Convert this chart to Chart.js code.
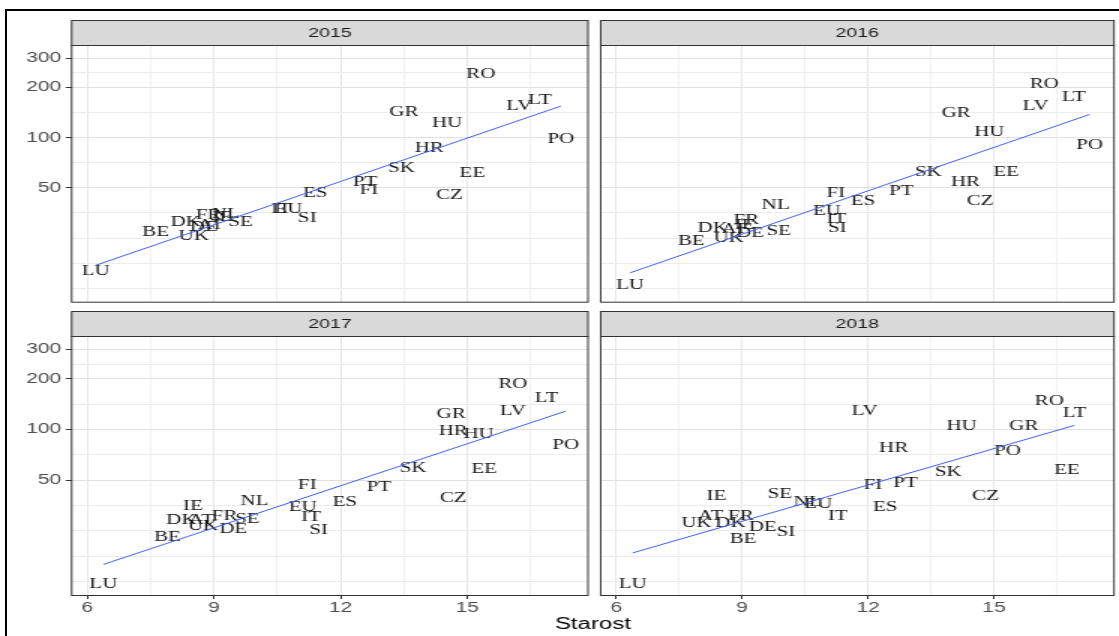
<!DOCTYPE html>
<html><head><meta charset="utf-8">
<script src="https://cdn.jsdelivr.net/npm/chart.js@4.4.1/dist/chart.umd.min.js"></script>
<style>
html,body{margin:0;padding:0;background:#fff;}
#wrap{position:relative;width:1119px;height:636px;overflow:hidden;background:#fff;}
#wrap canvas{position:absolute;left:0;top:0;}
#frame{position:absolute;left:5px;top:9px;width:1200px;height:700px;border-top:2px solid #000;border-left:2px solid #000;pointer-events:none;}
</style></head><body>
<div id="wrap">
<canvas id="c2015" width="746" height="636" style="width:1119px;height:636px"></canvas>
<canvas id="c2016" width="746" height="636" style="width:1119px;height:636px"></canvas>
<canvas id="c2017" width="746" height="636" style="width:1119px;height:636px"></canvas>
<canvas id="c2018" width="746" height="636" style="width:1119px;height:636px"></canvas>
<div id="frame"></div>
</div>
<script>
// ---- data ----
const countries = ['AT','BE','CZ','DE','DK','EE','ES','EU','FI','FR','GR','HR','HU','IE','IT','LT','LU','LV','NL','PO','PT','RO','SE','SI','SK','UK'];
const x2015 = [8.92,7.62,14.58,8.76,8.33,15.12,11.40,10.76,12.67,8.87,13.50,14.10,14.52,9.20,10.59,16.72,6.20,16.23,9.28,17.22,12.58,15.32,9.63,11.21,13.44,8.52];
const y2015 = [29.8,27.1,45.2,29.0,31.0,61.2,46.2,37.2,48.4,34.2,142.7,86,121.7,33.2,37.2,168,15.9,155,34.8,97.7,53.8,240,31.1,32.8,66,25.6];
const x2016 = [8.81,7.79,14.67,9.19,8.30,15.29,11.88,11.02,11.23,9.10,14.10,14.32,14.89,9.06,11.25,16.90,6.33,15.99,9.80,17.28,12.79,16.20,9.87,11.27,13.44,8.68];
const y2016 = [28.2,24.0,41.3,26.9,28.7,61.7,41.7,36.3,46.2,32.1,139.9,53.7,107.1,29.8,32.4,173.7,13.0,153.4,39.3,90.3,47.9,208.7,27.5,28.5,62.2,24.8];
const x2017 = [8.70,7.90,14.67,9.46,8.23,15.40,12.10,11.10,11.21,9.25,14.62,14.67,15.27,8.50,11.30,16.88,6.38,16.08,9.96,17.33,12.91,16.08,9.79,11.48,13.72,8.74];
const y2017 = [28.7,22.8,38.9,25.5,28.7,57.9,36.8,34.7,46.4,30.7,123,97.7,93.3,35.2,30.0,153.3,12.1,128.7,37.7,80.5,45.3,186,29.3,25.3,58.9,26.7];
const x2018 = [8.25,9.02,14.80,9.49,8.72,16.74,12.41,10.81,12.12,8.97,15.71,12.61,14.23,8.39,11.28,16.92,6.39,11.92,10.56,15.32,12.89,16.32,9.90,10.04,13.91,7.91];
const y2018 = [30.4,22.2,40.4,26.1,27.7,57.6,34.4,36.0,46.4,30.7,105.1,76.9,105.1,40.0,30.4,124.7,12.0,128.7,36.8,74.5,47.9,147.7,41.0,24.4,55.7,27.7];
// fitted line end points
const trendX2015 = [6.20, 17.22], trendY2015 = [17.2, 155];
const trendX2016 = [6.33, 17.28], trendY2016 = [15.5, 138];
const trendX2017 = [6.38, 17.33], trendY2017 = [15.8, 128.7];
const trendX2018 = [6.39, 16.92], trendY2018 = [18.5, 106];
// ticks
const xMajor = [6, 9, 12, 15];
const xMinor = [7.5, 10.5, 13.5, 16.5];
const yMajor = [50, 100, 200, 300];
const yMinor = [12.5, 17.7, 25, 35.4, 70.7, 141.4, 245];
const xRange = [5.63, 17.86];
const yRange = [10.4, 360];
const axisTitle = 'Starost';

// ---- layout (screen px) ----
const S = 1.5;              // horizontal stretch of the picture
const W = 746, H = 636;
const stripH = 25;
const panels = [
  {id:'c2015', year:'2015', xs:x2015, ys:y2015, tx:trendX2015, ty:trendY2015, left:71.7, right:588, top:45, bottom:301.7, showY:true, showX:false},
  {id:'c2016', year:'2016', xs:x2016, ys:y2016, tx:trendX2016, ty:trendY2016, left:600.7, right:1114, top:45, bottom:301.7, showY:false, showX:false},
  {id:'c2017', year:'2017', xs:x2017, ys:y2017, tx:trendX2017, ty:trendY2017, left:71.7, right:588, top:336, bottom:595, showY:true, showX:true},
  {id:'c2018', year:'2018', xs:x2018, ys:y2018, tx:trendX2018, ty:trendY2018, left:600.7, right:1114, top:336, bottom:595, showY:false, showX:true, title:true}
];

function makePlugin(p){
  return {
    id:'panel'+p.year,
    beforeDatasetsDraw(chart){
      const ctx = chart.ctx, meta = chart.getDatasetMeta(0);
      ctx.save();
      ctx.font = '14px "Liberation Serif", "Times New Roman", serif';
      ctx.fillStyle = '#141414';
      ctx.textAlign = 'center';
      ctx.textBaseline = 'middle';
      meta.data.forEach((el, i) => { ctx.fillText(countries[i], el.x, el.y); });
      ctx.restore();
    },
    afterDraw(chart){
      const ctx = chart.ctx, ca = chart.chartArea;
      ctx.save();
      // strip
      ctx.fillStyle = '#D9D9D9';
      ctx.fillRect(ca.left, ca.top - stripH, ca.right - ca.left, stripH);
      ctx.strokeStyle = '#333333';
      ctx.lineWidth = 1;
      ctx.strokeRect(ca.left, ca.top - stripH + 0.5, ca.right - ca.left, stripH);
      ctx.fillStyle = '#1A1A1A';
      ctx.font = '13px "Liberation Sans", Arial, sans-serif';
      ctx.textAlign = 'center'; ctx.textBaseline = 'middle';
      ctx.fillText(p.year, (ca.left + ca.right) / 2, ca.top - stripH / 2 + 1);
      // panel border
      ctx.strokeStyle = '#333333';
      ctx.strokeRect(ca.left, ca.top + 0.5, ca.right - ca.left, ca.bottom - ca.top);
      if (p.title){
        ctx.fillStyle = '#000';
        ctx.font = '16px "Liberation Sans", Arial, sans-serif';
        ctx.fillText(axisTitle, (71.7 + 1114) / 2 / S, 625);
      }
      ctx.restore();
    }
  };
}

panels.forEach(p => {
  new Chart(document.getElementById(p.id), {
    type:'scatter',
    data:{datasets:[
      {data:p.xs.map((x,i)=>({x:x, y:p.ys[i]})), pointRadius:0, pointHoverRadius:0, showLine:false},
      {data:[{x:p.tx[0], y:p.ty[0]},{x:p.tx[1], y:p.ty[1]}], showLine:true, borderColor:'#3F5FF0', borderWidth:1.0, pointRadius:0, fill:false}
    ]},
    options:{
      responsive:false, animation:false, devicePixelRatio:1, events:[],
      layout:{padding:{left:0, top:p.top, right:W - p.right / S, bottom:0}},
      plugins:{legend:{display:false}, tooltip:{enabled:false}},
      scales:{
        x:{type:'linear', position:'bottom', min:xRange[0], max:xRange[1], bounds:'data',
          afterBuildTicks:s => { s.ticks = xMajor.concat(xMinor).sort((a,b)=>a-b).map(v=>({value:v})); },
          afterFit:s => { s.height = H - p.bottom; },
          ticks:{display:p.showX, autoSkip:false, maxRotation:0, padding:1, color:'#4D4D4D',
            font:{family:'"Liberation Sans", Arial, sans-serif', size:14},
            callback:v => xMajor.includes(v) ? String(v) : ''},
          grid:{drawTicks:p.showX, tickLength:4, tickWidth:1,
            tickColor:c => (c.tick && xMajor.includes(c.tick.value)) ? '#333333' : 'rgba(0,0,0,0)',
            color:c => (c.tick && xMajor.includes(c.tick.value)) ? '#E0E0E0' : '#ECECEC',
            lineWidth:0.8},
          border:{display:false}
        },
        y:{type:'logarithmic', position:'left', min:yRange[0], max:yRange[1], bounds:'data',
          afterBuildTicks:s => { s.ticks = yMajor.concat(yMinor).sort((a,b)=>a-b).map(v=>({value:v})); },
          afterFit:s => { s.width = p.left / S; },
          ticks:{display:p.showY, autoSkip:false, padding:3, color:'#4D4D4D',
            font:{family:'"Liberation Sans", Arial, sans-serif', size:14},
            callback:v => yMajor.includes(v) ? String(v) : ''},
          grid:{drawTicks:p.showY, tickLength:4, tickWidth:1,
            tickColor:c => (c.tick && yMajor.includes(c.tick.value)) ? '#333333' : 'rgba(0,0,0,0)',
            color:c => (c.tick && yMajor.includes(c.tick.value)) ? '#E0E0E0' : '#ECECEC',
            lineWidth:1},
          border:{display:false}
        }
      }
    },
    plugins:[makePlugin(p)]
  });
});
</script>
</body></html>
